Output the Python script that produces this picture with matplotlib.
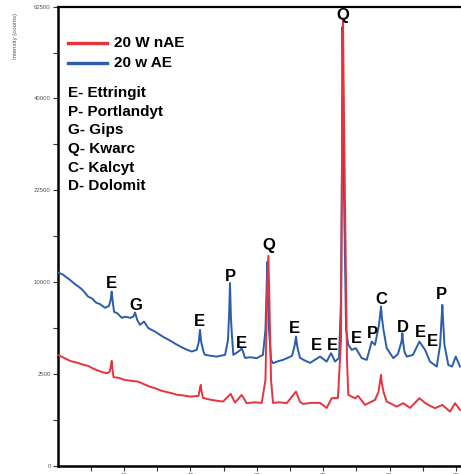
import numpy as np
import matplotlib.pyplot as plt

# 2-theta (deg) and intensity (counts)
theta_ae = [5.03, 5.40, 5.70, 5.93, 6.30, 6.60, 6.90, 7.29, 7.60, 7.90, 8.20, 8.57, 8.87,
            9.00, 9.07, 9.15, 9.25, 9.50, 9.83, 10.10, 10.45, 10.70, 10.83, 11.00, 11.20,
            11.51, 11.81, 12.05, 12.33, 12.70, 13.00, 13.30, 13.59, 13.90, 14.20, 14.50,
            14.80, 15.10, 15.47, 15.62, 15.72, 15.82, 15.99, 16.10, 16.50, 16.98, 17.30,
            17.61, 17.83, 17.92, 17.98, 18.05, 18.13, 18.23, 18.58, 18.78, 18.86, 18.95,
            19.11, 19.50, 19.99, 20.46, 20.65, 20.75, 20.79, 20.84, 20.92, 21.07, 21.22,
            21.60, 21.97, 22.30, 22.65, 22.85, 22.95, 23.05, 23.25, 23.60, 24.01, 24.40,
            24.76, 25.26, 25.59, 25.89, 26.19, 26.34, 26.42, 26.45, 26.49, 26.57, 26.72,
            26.89, 27.15, 27.45, 27.90, 28.28, 28.65, 28.90, 29.20, 29.30, 29.35, 29.42,
            29.54, 29.78, 30.28, 30.63, 30.90, 30.96, 31.02, 31.12, 31.29, 31.76, 32.24,
            32.67, 33.04, 33.55, 33.80, 33.92, 33.97, 34.03, 34.13, 34.42, 34.70, 34.98,
            35.30]
int_ae = [11088, 10850, 10500, 10263, 9800, 9500, 9150, 8503, 8300, 7900, 7750, 7406, 7594,
          8200, 9013, 8000, 7036, 6900, 6498, 6600, 6498, 6600, 6971, 6300, 5898,
          6177, 5650, 5500, 5351, 5100, 4900, 4750, 4584, 4400, 4250, 4100,
          3980, 3876, 3992, 4500, 5487, 4500, 3855, 3655, 3600, 3544, 3600,
          3655, 4710, 7000, 9902, 6500, 5000, 3655, 3855, 4000, 4110, 3900,
          3460, 3500, 3441, 3655, 5487, 10000, 12346, 9500, 5487, 3333, 3129,
          3250, 3333, 3450, 3590, 4300, 4960, 4200, 3460, 3300, 3147, 3350,
          3544, 3227, 3768, 3227, 3460, 8175, 30000, 57170, 45000, 20990, 5487,
          4343, 3992, 4110, 3441, 3333, 4584, 4343, 5898, 6900, 7528, 6500,
          5487, 4110, 3441, 3721, 4600, 5224, 4500, 3855, 3544, 3655, 4584,
          3992, 3227, 2925, 4343, 6600, 7689, 6200, 4343, 3026, 2925, 3544,
          2925]

theta_nae = [5.03, 5.50, 6.00, 6.50, 7.00, 7.29, 7.70, 8.10, 8.40, 8.70, 8.91, 9.00,
             9.07, 9.14, 9.21, 9.60, 10.00, 10.50, 11.05, 11.50, 12.00, 12.33, 12.80,
             13.20, 13.59, 14.00, 14.50, 14.97, 15.61, 15.72, 15.78, 15.85, 15.95, 16.50,
             17.00, 17.45, 18.03, 18.36, 18.86, 19.24, 19.80, 20.37, 20.65, 20.78, 20.87,
             20.95, 21.07, 21.22, 21.70, 22.25, 22.95, 23.25, 23.48, 24.10, 24.76, 25.26,
             25.64, 26.11, 26.34, 26.43, 26.49, 26.55, 26.64, 26.79, 26.89, 27.39, 27.62,
             28.15, 28.90, 29.16, 29.30, 29.35, 29.42, 29.54, 29.78, 30.10, 30.53, 31.03,
             31.54, 32.24, 32.67, 33.00, 33.42, 33.97, 34.55, 34.93, 35.30]
int_nae = [3655, 3450, 3250, 3150, 3020, 2967, 2800, 2680, 2600, 2549, 2621, 2900,
           3271, 2700, 2334, 2300, 2200, 2150, 2108, 1980, 1850, 1791, 1680,
           1620, 1568, 1500, 1470, 1425, 1454, 1800, 1946, 1600, 1372, 1300,
           1260, 1227, 1538, 1189, 1495, 1166, 1200, 1177, 2194, 9000, 13083,
           8000, 2194, 1177, 1200, 1166, 1638, 1215, 1140, 1180, 1177, 998,
           1360, 1372, 4710, 35000, 59010, 40000, 20990, 3333, 1495, 1360, 1454,
           1104, 1292, 1624, 2200, 2457, 2000, 1624, 1227, 1150, 1043, 1166,
           998, 1360, 1177, 1080, 988, 1104, 875, 1166, 930]

# phase letters over the peaks
peak_letters = ["E", "G", "E", "P", "E", "Q", "E", "E", "E", "Q", "E", "P", "C", "D", "E", "E", "P"]
peak_theta = [9.07, 10.90, 15.67, 17.98, 18.81, 20.87, 22.82, 24.46, 25.69, 26.51,
              27.52, 28.70, 29.41, 31.03, 32.29, 33.22, 33.87]
peak_int = [9902, 7594, 6177, 10630, 4466, 14424, 5625, 4272, 4272, 60210,
            4837, 5169, 8244, 5707, 5271, 4584, 8675]

series_names = ["20 W nAE", "20 w AE"]
phase_key = ["E- Ettringit", "P- Portlandyt", "G- Gips", "Q- Kwarc", "C- Kalcyt", "D- Dolomit"]
y_ticks = [0, 2500, 10000, 22500, 40000, 62500]
y_minor = [625, 5625, 15625, 30625, 50625]
x_ticks = [10, 15, 20, 25, 30, 35]

RED = '#E8333F'
BLUE = '#2A5DAB'
plt.rcParams['font.family'] = ['Liberation Sans', 'DejaVu Sans']

fig = plt.figure(figsize=(4.61, 4.74), dpi=100)
ax = fig.add_axes([0.125, 0.017, 0.893, 0.969])

ax.plot(theta_ae, int_ae, color=BLUE, lw=1.4, zorder=3)
ax.plot(theta_nae, int_nae, color=RED, lw=1.4, zorder=4)

ax.set_yscale('function', functions=(lambda v: np.sqrt(np.maximum(v, 0)), np.square))
ax.set_ylim(0, 62500)
ax.set_xlim(5, 36)
ax.set_yticks(y_ticks)
ax.set_yticks(y_minor, minor=True)
ax.set_yticklabels([str(t) for t in y_ticks])
ax.set_xticks(x_ticks)
ax.set_xticks([t - 2.5 for t in x_ticks], minor=True)
ax.tick_params(axis='both', which='both', direction='out', length=3.5, width=0.8,
               color='#333333', labelsize=4.3, labelcolor='#555555', pad=1.5)

for side in ['left', 'bottom']:
    ax.spines[side].set_linewidth(1.8)
ax.spines['top'].set_linewidth(1.6)
ax.spines['right'].set_visible(False)

fig.text(0.033, 0.925, "Intensity (counts)", rotation=90, fontsize=4.3,
         color='#555555', ha='center', va='center')

for letter, t, v in zip(peak_letters, peak_theta, peak_int):
    ax.text(t, v, letter, fontsize=12, fontweight='bold', ha='center', va='center', zorder=5)

# hand-built key in figure pixels
def px(x, y):
    return x / 461, 1 - y / 474

for name, col, yy in zip(series_names, [RED, BLUE], [43, 63]):
    x0, y0 = px(68, yy)
    x1, _ = px(107, yy)
    fig.add_artist(plt.Line2D([x0, x1], [y0, y0], color=col, lw=2.4))
    fig.text(*px(114, yy), name, fontsize=11, fontweight='bold', va='center', ha='left')

for i, line in enumerate(phase_key):
    fig.text(*px(68, 93 + i * 18.7), line, fontsize=11, fontweight='bold', va='center', ha='left')

fig.savefig("out.png", dpi=100)
